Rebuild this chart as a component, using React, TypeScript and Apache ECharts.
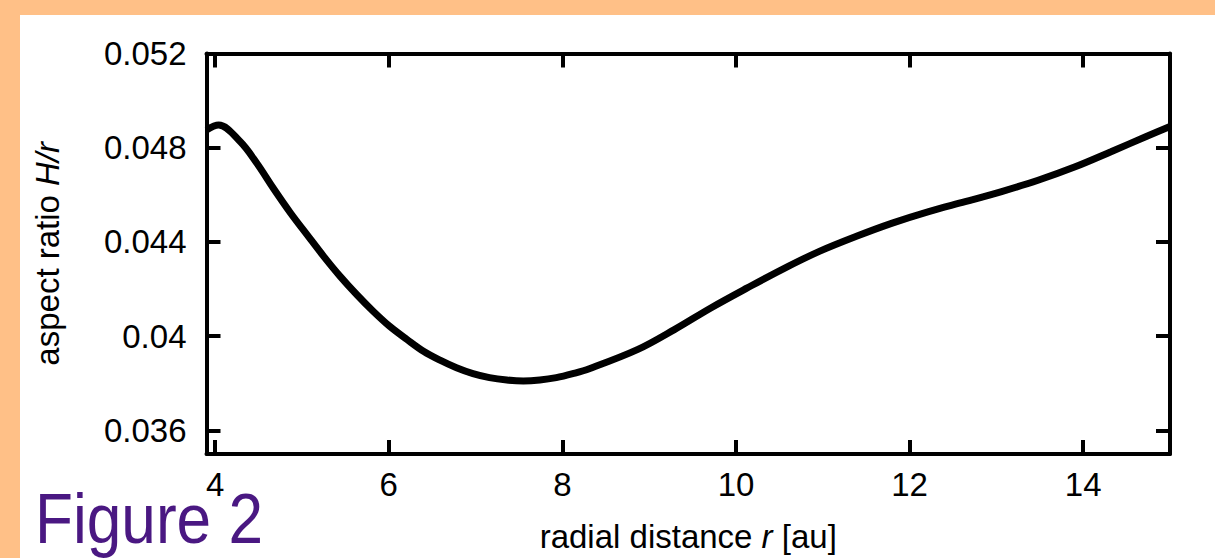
import React, { useEffect, useRef } from "react";
import * as echarts from "echarts";

const radius: number[] = [3.9, 4.04, 4.29, 4.48, 4.67, 4.87, 5.06, 5.25, 5.44, 5.63, 5.82, 6.01, 6.21, 6.4, 6.59, 6.78, 6.97, 7.16, 7.36, 7.55, 7.74, 7.93, 8.12, 8.31, 8.87, 9.29, 9.71, 10.13, 10.54, 10.96, 11.38, 11.8, 12.22, 12.64, 13.06, 13.48, 13.9, 14.32, 14.74, 15.0];
const aspect: number[] = [0.04875, 0.04896, 0.04825, 0.04734, 0.04628, 0.04522, 0.0443, 0.04339, 0.04254, 0.04177, 0.04106, 0.04042, 0.03986, 0.03936, 0.03898, 0.03866, 0.03841, 0.03824, 0.03814, 0.0381, 0.03814, 0.03824, 0.03841, 0.03862, 0.03944, 0.04028, 0.0412, 0.04205, 0.04285, 0.0436, 0.04423, 0.0448, 0.04529, 0.04571, 0.04614, 0.04662, 0.04718, 0.04783, 0.0485, 0.0489];
const xTicks: number[] = [4, 6, 8, 10, 12, 14];
const yTicks: number[] = [0.036, 0.04, 0.044, 0.048, 0.052];

export default function App() {
  const ref = useRef<HTMLDivElement>(null);
  useEffect(() => {
    document.body.style.margin = "0";
    const chart = echarts.init(ref.current!, null, { renderer: "svg" });
    const lineStyle = { color: "#000", width: 4 };
    const tickStyle = { color: "#000", width: 4 };
    const font = "'Liberation Sans', Arial, Helvetica, sans-serif";
    const fs = 33;
    chart.setOption({
      animation: false,
      backgroundColor: "#FFC087",
      graphic: [
        {
          type: "rect",
          z: -10,
          shape: { x: 20, y: 15, width: 1195, height: 543 },
          style: { fill: "#ffffff" },
          silent: true,
        },
        {
          type: "text",
          x: 35,
          y: 484,
          scaleX: 0.888,
          z: 10,
          style: {
            text: "Figure 2",
            fill: "#4a1882",
            verticalAlign: "top",
            font: "normal 70px 'Liberation Sans', Arial, sans-serif",
          },
        },
      ],
      grid: { left: 206.5, right: 45, top: 53.5, bottom: 104, containLabel: false },
      xAxis: [
        {
          type: "value",
          min: 3.9,
          max: 15,
          position: "bottom",
          axisLine: { show: true, lineStyle },
          axisTick: { show: true, inside: true, length: 14, lineStyle: tickStyle, customValues: xTicks },
          axisLabel: { show: true, customValues: xTicks, color: "#000", fontSize: fs, fontFamily: font, margin: 14 },
          splitLine: { show: false },
          name: "{a|radial distance }{b|r}{a| [au]}",
          nameLocation: "middle",
          nameGap: 66,
          nameTextStyle: {
            rich: {
              a: { fontSize: fs, fontFamily: font, color: "#000" },
              b: { fontSize: fs, fontFamily: font, color: "#000", fontStyle: "italic" },
            },
          },
        },
        {
          type: "value",
          min: 3.9,
          max: 15,
          position: "top",
          axisLine: { show: true, lineStyle },
          axisTick: { show: true, inside: true, length: 14, lineStyle: tickStyle, customValues: xTicks },
          axisLabel: { show: false },
          splitLine: { show: false },
        },
      ],
      yAxis: [
        {
          type: "value",
          min: 0.035,
          max: 0.052,
          position: "left",
          axisLine: { show: true, lineStyle },
          axisTick: { show: true, inside: true, length: 14, lineStyle: tickStyle, customValues: yTicks },
          axisLabel: {
            show: true,
            customValues: yTicks,
            color: "#000",
            fontSize: fs,
            fontFamily: font,
            margin: 20,
            formatter: (v: number) => String(+v.toFixed(3)),
          },
          splitLine: { show: false },
          name: "{a|aspect ratio }{b|H/r}",
          nameLocation: "middle",
          nameGap: 143,
          nameRotate: 90,
          nameTextStyle: {
            rich: {
              a: { fontSize: fs, fontFamily: font, color: "#000" },
              b: { fontSize: fs, fontFamily: font, color: "#000", fontStyle: "italic" },
            },
          },
        },
        {
          type: "value",
          min: 0.035,
          max: 0.052,
          position: "right",
          axisLine: { show: true, lineStyle },
          axisTick: { show: true, inside: true, length: 14, lineStyle: tickStyle, customValues: yTicks },
          axisLabel: { show: false },
          splitLine: { show: false },
        },
      ],
      series: [
        {
          type: "line",
          xAxisIndex: 0,
          yAxisIndex: 0,
          data: radius.map((r, i) => [r, aspect[i]]),
          smooth: 0.35,
          showSymbol: false,
          symbol: "none",
          lineStyle: { color: "#000", width: 7 },
          clip: true,
          z: 5,
        },
      ],
    });
    return () => chart.dispose();
  }, []);
  return <div ref={ref} style={{ width: 1215, height: 558 }} />;
}
